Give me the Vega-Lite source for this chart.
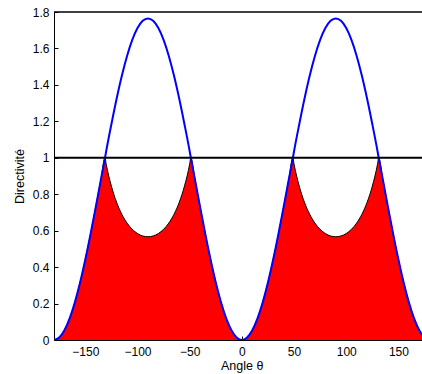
{
"$schema": "https://vega.github.io/schema/vega-lite/v6.json",
"width": 368, "height": 328,
"autosize": {"type": "none"},
"padding": {"left": 54, "top": 12, "right": 0, "bottom": 34},
"background": "white",
"config": {
  "view": {"stroke": null},
  "axis": {"domainColor": "black", "domainWidth": 1, "grid": false,
    "labelFont": "Liberation Sans", "labelFontSize": 12, "labelColor": "black",
    "titleFont": "Liberation Sans", "titleFontSize": 12.5, "titleFontWeight": "normal", "titleColor": "black"}
},
"data": {"values": [
{"theta": -180, "D": 0, "R": 0},
{"theta": -175, "D": 0.0134, "R": 0.0134},
{"theta": -170, "D": 0.0532, "R": 0.0532},
{"theta": -165, "D": 0.1182, "R": 0.1182},
{"theta": -160, "D": 0.2065, "R": 0.2065},
{"theta": -155, "D": 0.3152, "R": 0.3152},
{"theta": -150, "D": 0.4413, "R": 0.4413},
{"theta": -145, "D": 0.5807, "R": 0.5807},
{"theta": -140, "D": 0.7293, "R": 0.7293},
{"theta": -135, "D": 0.8825, "R": 0.8825},
{"theta": -131.1, "D": 1, "R": 1},
{"theta": -130, "D": 1.0357, "R": 0.9655},
{"theta": -125, "D": 1.1843, "R": 0.8444},
{"theta": -120, "D": 1.3238, "R": 0.7554},
{"theta": -115, "D": 1.4498, "R": 0.6898},
{"theta": -110, "D": 1.5585, "R": 0.6416},
{"theta": -105, "D": 1.6468, "R": 0.6073},
{"theta": -100, "D": 1.7118, "R": 0.5842},
{"theta": -95, "D": 1.7516, "R": 0.5709},
{"theta": -90, "D": 1.765, "R": 0.5666},
{"theta": -85, "D": 1.7516, "R": 0.5709},
{"theta": -80, "D": 1.7118, "R": 0.5842},
{"theta": -75, "D": 1.6468, "R": 0.6073},
{"theta": -70, "D": 1.5585, "R": 0.6416},
{"theta": -65, "D": 1.4498, "R": 0.6898},
{"theta": -60, "D": 1.3238, "R": 0.7554},
{"theta": -55, "D": 1.1843, "R": 0.8444},
{"theta": -50, "D": 1.0357, "R": 0.9655},
{"theta": -48.9, "D": 1, "R": 1},
{"theta": -45, "D": 0.8825, "R": 0.8825},
{"theta": -40, "D": 0.7293, "R": 0.7293},
{"theta": -35, "D": 0.5807, "R": 0.5807},
{"theta": -30, "D": 0.4413, "R": 0.4413},
{"theta": -25, "D": 0.3152, "R": 0.3152},
{"theta": -20, "D": 0.2065, "R": 0.2065},
{"theta": -15, "D": 0.1182, "R": 0.1182},
{"theta": -10, "D": 0.0532, "R": 0.0532},
{"theta": -5, "D": 0.0134, "R": 0.0134},
{"theta": 0, "D": 0, "R": 0},
{"theta": 5, "D": 0.0134, "R": 0.0134},
{"theta": 10, "D": 0.0532, "R": 0.0532},
{"theta": 15, "D": 0.1182, "R": 0.1182},
{"theta": 20, "D": 0.2065, "R": 0.2065},
{"theta": 25, "D": 0.3152, "R": 0.3152},
{"theta": 30, "D": 0.4413, "R": 0.4413},
{"theta": 35, "D": 0.5807, "R": 0.5807},
{"theta": 40, "D": 0.7293, "R": 0.7293},
{"theta": 45, "D": 0.8825, "R": 0.8825},
{"theta": 48.9, "D": 1, "R": 1},
{"theta": 50, "D": 1.0357, "R": 0.9655},
{"theta": 55, "D": 1.1843, "R": 0.8444},
{"theta": 60, "D": 1.3238, "R": 0.7554},
{"theta": 65, "D": 1.4498, "R": 0.6898},
{"theta": 70, "D": 1.5585, "R": 0.6416},
{"theta": 75, "D": 1.6468, "R": 0.6073},
{"theta": 80, "D": 1.7118, "R": 0.5842},
{"theta": 85, "D": 1.7516, "R": 0.5709},
{"theta": 90, "D": 1.765, "R": 0.5666},
{"theta": 95, "D": 1.7516, "R": 0.5709},
{"theta": 100, "D": 1.7118, "R": 0.5842},
{"theta": 105, "D": 1.6468, "R": 0.6073},
{"theta": 110, "D": 1.5585, "R": 0.6416},
{"theta": 115, "D": 1.4498, "R": 0.6898},
{"theta": 120, "D": 1.3238, "R": 0.7554},
{"theta": 125, "D": 1.1843, "R": 0.8444},
{"theta": 130, "D": 1.0357, "R": 0.9655},
{"theta": 131.1, "D": 1, "R": 1},
{"theta": 135, "D": 0.8825, "R": 0.8825},
{"theta": 140, "D": 0.7293, "R": 0.7293},
{"theta": 145, "D": 0.5807, "R": 0.5807},
{"theta": 150, "D": 0.4413, "R": 0.4413},
{"theta": 155, "D": 0.3152, "R": 0.3152},
{"theta": 160, "D": 0.2065, "R": 0.2065},
{"theta": 165, "D": 0.1182, "R": 0.1182},
{"theta": 170, "D": 0.0532, "R": 0.0532},
{"theta": 175, "D": 0.0134, "R": 0.0134},
{"theta": 180, "D": 0, "R": 0}
]},
"transform": [{"fold": ["D", "R"], "as": ["s", "v"]}],
"encoding": {
  "x": {"field": "theta", "type": "quantitative", "scale": {"domain": [-180, 172.6], "nice": false, "zero": false},
        "axis": {"orient": "bottom", "values": [-150, -100, -50, 0, 50, 100, 150], "format": "d", "ticks": true, "tickSize": -4, "tickColor": "black", "labelPadding": 10, "labelOverlap": false, "title": "Angle θ", "titleX": 187.7, "titleY": 29, "titleBaseline": "alphabetic", "titleAnchor": null, "titleAlign": "center"}},
  "y": {"field": "v", "type": "quantitative", "scale": {"domain": [0, 1.8], "nice": false},
        "axis": {"values": [0, 0.2, 0.4, 0.6, 0.8, 1, 1.2, 1.4, 1.6, 1.8], "format": "~g", "ticks": true, "tickSize": -4, "tickColor": "black", "labelPadding": 9, "labelOverlap": false, "title": "Directivité", "titleX": -35, "titleY": 164, "titleAngle": 270, "titleBaseline": "middle", "titleAlign": "center", "titleAnchor": null}}
},
"layer": [
  {"transform": [{"filter": "datum.s === 'R'"}],
   "mark": {"type": "area", "color": "#ff0000", "interpolate": "monotone", "clip": true}},
  {"transform": [{"filter": "datum.s === 'R'"}],
   "mark": {"type": "line", "color": "black", "strokeWidth": 1, "interpolate": "monotone", "clip": true}},
  {"transform": [{"filter": "datum.s === 'D'"}],
   "mark": {"type": "line", "color": "#0000ff", "strokeWidth": 2, "interpolate": "monotone", "clip": true}},
  {"transform": [{"filter": "datum.s === 'D' && datum.theta === 0"}],
   "mark": {"type": "rule", "color": "black", "strokeWidth": 2},
   "encoding": {"y": {"datum": 1, "type": "quantitative"}, "x": {"value": 0}, "x2": {"value": 368}}},
  {"transform": [{"filter": "datum.s === 'D' && datum.theta === 0"}],
   "mark": {"type": "rule", "color": "black", "strokeWidth": 1.5},
   "encoding": {"y": {"datum": 1.8, "type": "quantitative"}, "x": {"value": 0}, "x2": {"value": 368}}}
]
}
